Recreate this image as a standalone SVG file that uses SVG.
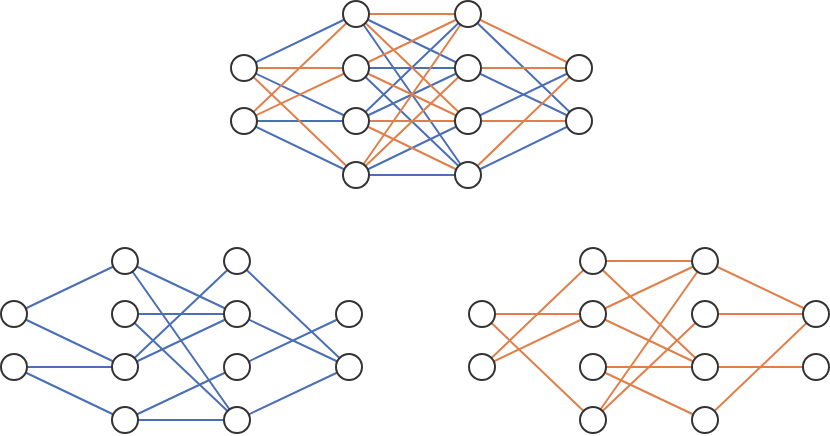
<svg xmlns="http://www.w3.org/2000/svg" width="830" height="436" viewBox="0 0 830 436">
<style>
.b{stroke:#4a6fb5;stroke-width:2;fill:none}
.o{stroke:#e07f4a;stroke-width:2;fill:none}
circle{fill:#fff;stroke:#333;stroke-width:2}
</style>
<rect width="830" height="436" fill="#fff"/>
<g id="connectors">
<g class="b">
<!-- top blue -->
<path d="M244 68L356 14M244 68L356 121M244 121L356 121M244 121L356 175"/>
<path d="M356 14L468 68M356 14L468 175M356 68L468 68M356 68L468 175M356 121L468 14M356 121L468 68M356 175L468 121M356 175L468 175"/>
<path d="M468 14L579 121M468 68L579 121M468 121L579 68M468 175L579 121"/>
<!-- bottom-left -->
<path d="M14 314L125 261M14 314L125 367M14 367L125 367M14 367L125 420"/>
<path d="M125 261L237 314M125 261L237 420M125 314L237 314M125 314L237 420M125 367L237 261M125 367L237 314M125 420L237 367M125 420L237 420"/>
<path d="M237 261L349 367M237 314L349 367M237 367L349 314M237 420L349 367"/>
</g>
<g class="o">
<path d="M244 68L356 68M244 68L356 175M244 121L356 14M244 121L356 68"/>
<path d="M356 14L468 14M356 14L468 121M356 68L468 14M356 68L468 121M356 121L468 121M356 121L468 175M356 175L468 14M356 175L468 68"/>
<path d="M468 14L579 68M468 68L579 68M468 121L579 121M468 175L579 68"/>
<path d="M482 314L593 314M482 314L593 420M482 367L593 261M482 367L593 314"/>
<path d="M593 261L705 261M593 261L705 367M593 314L705 261M593 314L705 367M593 367L705 367M593 367L705 420M593 420L705 261M593 420L705 314"/>
<path d="M705 261L816 314M705 314L816 314M705 367L816 367M705 420L816 314"/>
</g>
</g>
<g id="top">
<circle id="t_i0" cx="244" cy="68" r="13"/><circle id="t_i1" cx="244" cy="121" r="13"/>
<circle id="t_a0" cx="356" cy="14" r="13"/><circle id="t_a1" cx="356" cy="68" r="13"/><circle id="t_a2" cx="356" cy="121" r="13"/><circle id="t_a3" cx="356" cy="175" r="13"/>
<circle id="t_b0" cx="468" cy="14" r="13"/><circle id="t_b1" cx="468" cy="68" r="13"/><circle id="t_b2" cx="468" cy="121" r="13"/><circle id="t_b3" cx="468" cy="175" r="13"/>
<circle id="t_o0" cx="579" cy="68" r="13"/><circle id="t_o1" cx="579" cy="121" r="13"/>
</g>
<g id="left">
<circle id="l_i0" cx="14" cy="314" r="13"/><circle id="l_i1" cx="14" cy="367" r="13"/>
<circle id="l_a0" cx="125" cy="261" r="13"/><circle id="l_a1" cx="125" cy="314" r="13"/><circle id="l_a2" cx="125" cy="367" r="13"/><circle id="l_a3" cx="125" cy="420" r="13"/>
<circle id="l_b0" cx="237" cy="261" r="13"/><circle id="l_b1" cx="237" cy="314" r="13"/><circle id="l_b2" cx="237" cy="367" r="13"/><circle id="l_b3" cx="237" cy="420" r="13"/>
<circle id="l_o0" cx="349" cy="314" r="13"/><circle id="l_o1" cx="349" cy="367" r="13"/>
</g>
<g id="right">
<circle id="r_i0" cx="482" cy="314" r="13"/><circle id="r_i1" cx="482" cy="367" r="13"/>
<circle id="r_a0" cx="593" cy="261" r="13"/><circle id="r_a1" cx="593" cy="314" r="13"/><circle id="r_a2" cx="593" cy="367" r="13"/><circle id="r_a3" cx="593" cy="420" r="13"/>
<circle id="r_b0" cx="705" cy="261" r="13"/><circle id="r_b1" cx="705" cy="314" r="13"/><circle id="r_b2" cx="705" cy="367" r="13"/><circle id="r_b3" cx="705" cy="420" r="13"/>
<circle id="r_o0" cx="816" cy="314" r="13"/><circle id="r_o1" cx="816" cy="367" r="13"/>
</g>
</svg>
